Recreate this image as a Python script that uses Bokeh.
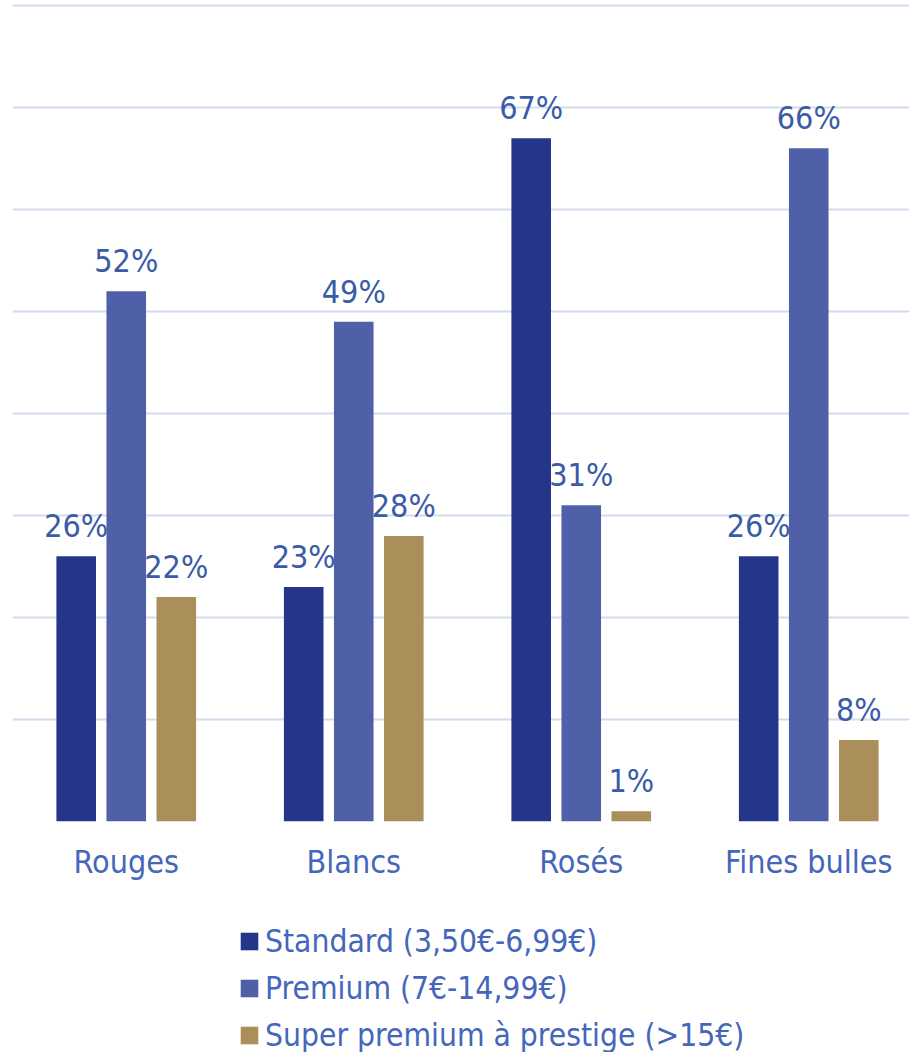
from bokeh.plotting import figure
from bokeh.models import ColumnDataSource, Range1d, FixedTicker, LabelSet, Legend, LegendItem
from bokeh.core.properties import value
from bokeh.layouts import column
from bokeh.embed import file_html
from bokeh.resources import INLINE

categories = ["Rouges", "Blancs", "Rosés", "Fines bulles"]
series_names = ["Standard (3,50€-6,99€)", "Premium (7€-14,99€)", "Super premium à prestige (>15€)"]
standard = [26, 23, 67, 26]
premium = [52, 49, 31, 66]
super_premium = [22, 28, 1, 8]
y_ticks = [0, 10, 20, 30, 40, 50, 60, 70, 80]

colors = ["#25358A", "#5060A8", "#AB8F5A"]
FONT = "DejaVu Sans Condensed"
AXIS_TXT = "#4466BB"
LBL_TXT = "#3A5BA8"
GRID = "#D3DBEE"

p = figure(width=909, height=900, output_backend="svg", toolbar_location=None,
           x_range=Range1d(0, 897 / 227.5), y_range=Range1d(0, 80.2),
           min_border_left=12, min_border_right=0, min_border_top=3, min_border_bottom=79)
p.outline_line_color = None
p.background_fill_color = "white"
p.border_fill_color = "white"

centers = [i + 0.5 for i in range(len(categories))]
offsets = [-0.22, 0.0, 0.22]
bar_w = 0.174
for k, (vals, col) in enumerate(zip([standard, premium, super_premium], colors)):
    xs = [c + offsets[k] for c in centers]
    src = ColumnDataSource(dict(x=xs, top=vals, lbl=[f"{v}%" for v in vals]))
    p.vbar(x="x", top="top", bottom=0, width=bar_w, source=src, fill_color=col, line_color=None)
    p.add_layout(LabelSet(x="x", y="top", text="lbl", source=src, y_offset=11,
                          text_align="center", text_baseline="bottom",
                          text_font=value(FONT), text_font_size="32px", text_color=LBL_TXT))

p.yaxis.visible = False
p.ygrid.ticker = FixedTicker(ticks=y_ticks)
p.ygrid.grid_line_color = GRID
p.ygrid.grid_line_width = 2
p.xgrid.visible = False

p.xaxis.ticker = FixedTicker(ticks=centers)
p.xaxis.major_label_overrides = {c: n for c, n in zip(centers, categories)}
p.xaxis.major_label_text_font = FONT
p.xaxis.major_label_text_font_size = "32px"
p.xaxis.major_label_text_color = AXIS_TXT
p.xaxis.axis_line_color = None
p.xaxis.major_tick_line_color = None
p.xaxis.minor_tick_line_color = None
p.xaxis.major_label_standoff = 15

# legend panel
lf = figure(width=909, height=152, output_backend="svg", toolbar_location=None,
            x_range=Range1d(0, 1), y_range=Range1d(0, 1),
            min_border_left=0, min_border_right=0, min_border_top=0, min_border_bottom=0)
lf.outline_line_color = None
lf.axis.visible = False
lf.grid.visible = False
items = []
for col, name in zip(colors, series_names):
    r = lf.rect(x=[-5], y=[-5], width=1, height=1, fill_color=col, line_color=None)
    items.append(LegendItem(label=name, renderers=[r]))
legend = Legend(items=items, location=(226, -1), orientation="vertical",
                label_text_font=FONT, label_text_font_size="31.5px", label_text_color=AXIS_TXT,
                glyph_width=22, glyph_height=22, label_standoff=5, spacing=11, label_height=36,
                border_line_color=None, background_fill_alpha=0, padding=0, margin=0)
lf.add_layout(legend)

layout = column(p, lf, spacing=0)
open("out.html", "w").write(file_html(layout, INLINE))
